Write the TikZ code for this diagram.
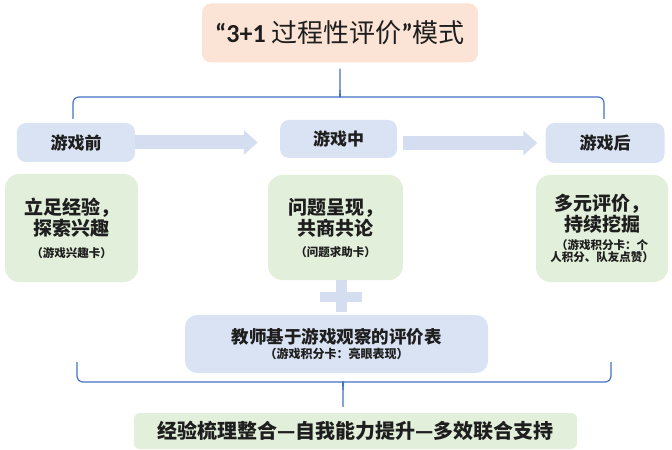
\documentclass[tikz,border=0pt]{standalone}
\usepackage{fontspec}
\setmainfont{Carlito}
\newfontfamily\cjk{Noto Sans CJK SC}
\usetikzlibrary{arrows.meta,calc}
\definecolor{peach}{HTML}{FBE4D5}
\definecolor{lblue}{HTML}{DAE3F3}
\definecolor{lgreen}{HTML}{E2EFDA}
\definecolor{arrowc}{HTML}{D5DEF1}
\definecolor{bracec}{HTML}{4472C4}
\definecolor{txt}{HTML}{1E1E1E}
\newcommand{\smalltxt}{\fontsize{11.5bp}{13bp}\selectfont}
\begin{document}
\begin{tikzpicture}[x=1bp,y=-1bp,
  box/.style={rounded corners=9bp, inner sep=0pt, text=txt, align=center},
  bluebox/.style={box, fill=lblue, font=\cjk\bfseries\fontsize{17bp}{21bp}\selectfont},
  greenbox/.style={box, fill=lgreen, rounded corners=14bp, font=\cjk\bfseries\fontsize{19bp}{21bp}\selectfont},
  bracel/.style={draw=bracec, line width=1.2bp, rounded corners=6bp},
  bigarrow/.style={draw=arrowc, line width=14bp, -{Triangle[length=14bp,width=24bp]}},
]
\useasboundingbox (0,0) rectangle (672,450);

% title
\node[box, fill=peach, minimum width=276bp, minimum height=59bp,
      font=\cjk\fontsize{26bp}{30bp}\selectfont] (title) at (340,33)
  {{\rmfamily\bfseries “3+1}\ 过程性评价{\rmfamily\bfseries ”}模式};

% stage boxes
\node[bluebox, minimum width=118bp, minimum height=39bp] (pre)  at (76,142.5) {游戏前};
\node[bluebox, minimum width=117bp, minimum height=38bp] (mid)  at (338.5,139) {游戏中};
\node[bluebox, minimum width=119bp, minimum height=40bp] (post) at (605,143) {游戏后};

% green boxes
\node[greenbox, minimum width=133bp, minimum height=108bp] (g1) at (71.5,228)
  {立足经验，\\探索兴趣\\[1bp]{\smalltxt （游戏兴趣卡）}};
\node[greenbox, minimum width=135bp, minimum height=105bp] (g2) at (335.5,227.5)
  {问题呈现，\\共商共论\\[0bp]{\smalltxt （问题求助卡）}};
\node[greenbox, minimum width=132bp, minimum height=107bp] (g3) at (602,228.5)
  {多元评价，\\持续挖掘\\[-3bp]{\smalltxt （游戏积分卡：个}\\[-8.5bp]{\smalltxt 人积分、队友点赞）}};

% teacher box
\node[box, fill=lblue, rounded corners=12bp, minimum width=303bp, minimum height=58bp,
      font=\cjk\bfseries\fontsize{17.5bp}{21bp}\selectfont] (teach) at (336.5,344)
  {教师基于游戏观察的评价表\\[-6bp]{\fontsize{12bp}{13bp}\selectfont （游戏积分卡：亮眼表现）}};

% bottom box
\node[box, fill=lgreen, rounded corners=6bp, minimum width=443bp, minimum height=36bp,
      font=\cjk\bfseries\fontsize{20bp}{24bp}\selectfont] (res) at (355.5,431)
  {经验梳理整合—自我能力提升—多效联合支持};

% arrows
\draw[bigarrow, shorten >=22bp] (pre.east) -- (pre.east -| mid.west);
\draw[bigarrow, shorten <=6bp, shorten >=8bp] (post.west -| mid.east) -- (post.west);

% plus sign
\coordinate (pc) at (341.5,297);
\fill[arrowc] ($(pc)+(-5.5,-17)$) rectangle ($(pc)+(5.5,15)$);
\fill[arrowc] ($(pc)+(-21.5,-5)$) rectangle ($(pc)+(20.5,5)$);

% top brace
\coordinate (tt) at ($(title.south)+(0,6)$);
\draw[bracel] (73,119) -- (73,97) -- (334,97) [sharp corners] .. controls (339,97) and (340,95) .. (340,90) -- (tt);
\draw[bracel] (604,119) -- (604,97) -- (346,97) [sharp corners] .. controls (341,97) and (340,95) .. (340,90);

% bottom brace
\coordinate (bt) at ($(res.north)+(-12.5,-6)$);
\draw[bracel] (77,362) -- (77,382) -- (337,382) [sharp corners] .. controls (342,382) and (343,385) .. (343,390) -- (bt);
\draw[bracel] (611,362) -- (611,382) -- (349,382) [sharp corners] .. controls (344,382) and (343,385) .. (343,390);
\end{tikzpicture}
\end{document}
